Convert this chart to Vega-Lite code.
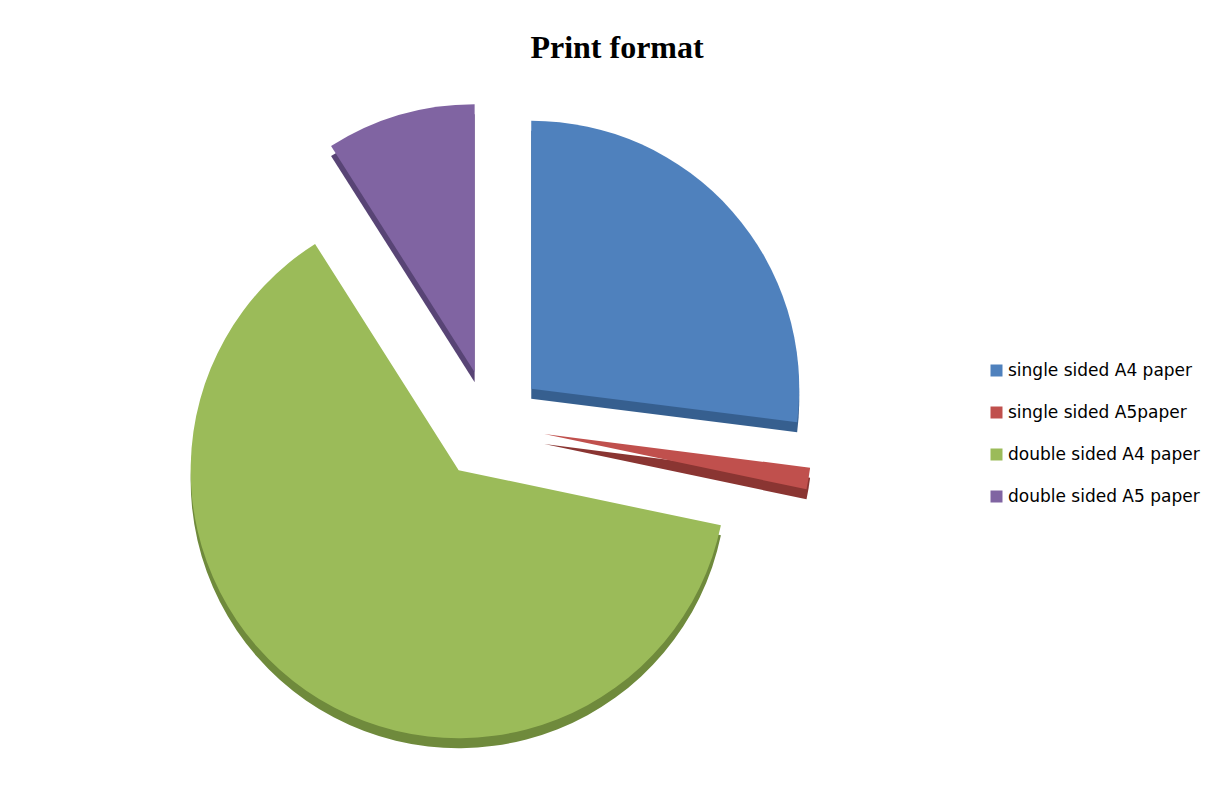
{
  "$schema": "https://vega.github.io/schema/vega-lite/v6.json",
  "autosize": "none",
  "width": 560,
  "height": 560,
  "padding": {"left": 210, "top": 145, "right": 457, "bottom": 88},
  "background": "white",
  "config": {"view": {"stroke": null}},
  "title": {
    "text": "Print format",
    "font": "Liberation Serif",
    "fontSize": 32,
    "fontWeight": "bold",
    "color": "black",
    "baseline": "alphabetic",
    "anchor": "middle",
    "dx": 127,
    "offset": 14
  },
  "data": {
    "values": [
      {"format": "single sided A4 paper", "value": 27, "ord": 1},
      {"format": "single sided A5paper", "value": 1.3, "ord": 2},
      {"format": "double sided A4 paper", "value": 62.7, "ord": 3},
      {"format": "double sided A5 paper", "value": 9, "ord": 4}
    ]
  },
  "encoding": {
    "theta": {"field": "value", "type": "quantitative", "stack": true},
    "order": {"field": "ord", "type": "quantitative"}
  },
  "layer": [
    {
      "mark": {
        "type": "arc",
        "outerRadius": 268,
        "xOffset": {"expr": "55*sin(scale('theta',(datum.value_start+datum.value_end)/2))"},
        "yOffset": {"expr": "10-55*cos(scale('theta',(datum.value_start+datum.value_end)/2))"}
      },
      "encoding": {
        "color": {
          "field": "format",
          "type": "nominal",
          "scale": {
            "domain": ["single sided A4 paper", "single sided A5paper", "double sided A4 paper", "double sided A5 paper"],
            "range": ["#365f8f", "#8a3532", "#6f8a3c", "#584475"]
          },
          "legend": null
        }
      }
    },
    {
      "mark": {
        "type": "arc",
        "outerRadius": 268,
        "xOffset": {"expr": "55*sin(scale('theta',(datum.value_start+datum.value_end)/2))"},
        "yOffset": {"expr": "-55*cos(scale('theta',(datum.value_start+datum.value_end)/2))"}
      },
      "encoding": {
        "color": {
          "field": "format",
          "type": "nominal",
          "scale": {
            "domain": ["single sided A4 paper", "single sided A5paper", "double sided A4 paper", "double sided A5 paper"],
            "range": ["#4f81bd", "#c0504d", "#9bbb59", "#8064a2"]
          },
          "legend": {
            "title": null,
            "orient": "none",
            "legendX": 778,
            "legendY": 217,
            "symbolType": "square",
            "symbolSize": 144,
            "symbolStrokeWidth": 0,
            "labelFont": "DejaVu Sans",
            "labelFontSize": 17,
            "labelColor": "black",
            "labelOffset": 3,
            "rowPadding": 24,
            "labelLimit": 400
          }
        }
      }
    }
  ],
  "resolve": {"scale": {"color": "independent"}}
}
